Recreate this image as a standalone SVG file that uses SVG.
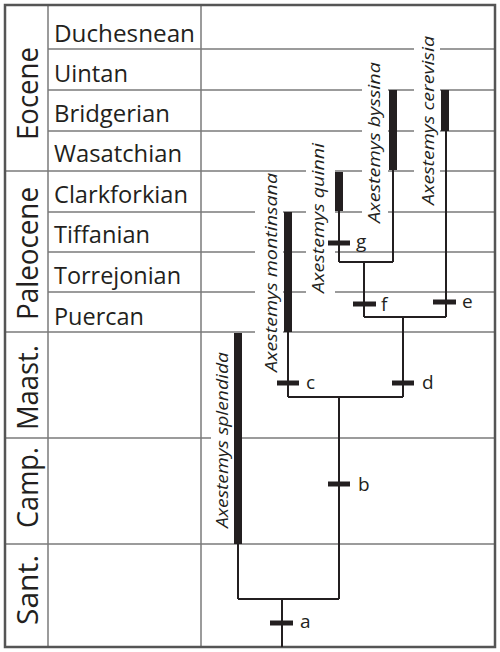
<svg xmlns="http://www.w3.org/2000/svg" width="500" height="652" viewBox="0 0 500 652">
<style>
.grid{stroke:#7a7a7a;stroke-width:1.5;fill:none}
.frame{stroke:#555;stroke-width:2.5;fill:none}
.gap{fill:#fff;stroke:none}
.br{stroke:#231f20;stroke-width:2;fill:none}
.bar{stroke:#231f20;stroke-width:8;fill:none}
.tick{stroke:#231f20;stroke-width:5;fill:none}
.stage{font-family:"Open Sans","Liberation Sans",sans-serif;font-size:24px;fill:#231f20}
.epoch{font-family:"Open Sans","Liberation Sans",sans-serif;font-size:30px;fill:#231f20}
.sp{font-family:"Open Sans","Liberation Sans",sans-serif;font-size:17px;font-style:italic;fill:#231f20}
.lab{font-family:"Open Sans","Liberation Sans",sans-serif;font-size:19px;fill:#231f20}
</style>
<rect x="0" y="0" width="500" height="652" fill="#fff"/>
<g id="grid">
<line class="grid" x1="48" y1="49" x2="495" y2="49"/>
<line class="grid" x1="48" y1="90" x2="495" y2="90"/>
<line class="grid" x1="48" y1="131" x2="495" y2="131"/>
<line class="grid" x1="5" y1="171" x2="495" y2="171"/>
<line class="grid" x1="48" y1="212" x2="495" y2="212"/>
<line class="grid" x1="48" y1="252" x2="495" y2="252"/>
<line class="grid" x1="48" y1="292" x2="495" y2="292"/>
<line class="grid" x1="5" y1="332" x2="495" y2="332"/>
<line class="grid" x1="5" y1="438" x2="495" y2="438"/>
<line class="grid" x1="5" y1="544" x2="495" y2="544"/>
<line class="grid" x1="48" y1="5" x2="48" y2="647"/>
<line class="grid" x1="201" y1="5" x2="201" y2="647"/>
<rect class="frame" x="5" y="5" width="490" height="642"/>
</g>
<g id="gaps">
<rect class="gap" x="211" y="346" width="23" height="190"/>
<rect class="gap" x="255" y="172" width="28" height="204"/>
<rect class="gap" x="306" y="140" width="29" height="156"/>
<rect class="gap" x="362" y="58" width="26" height="169"/>
<rect class="gap" x="414" y="32" width="26" height="177"/>
</g>
<g id="epochs">
<text class="epoch" transform="translate(38,140) rotate(-90)" textLength="93" lengthAdjust="spacingAndGlyphs">Eocene</text>
<text class="epoch" transform="translate(38,320) rotate(-90)" textLength="133" lengthAdjust="spacingAndGlyphs">Paleocene</text>
<text class="epoch" transform="translate(38,430) rotate(-90)" textLength="85" lengthAdjust="spacingAndGlyphs">Maast.</text>
<text class="epoch" transform="translate(38,528) rotate(-90)" textLength="81" lengthAdjust="spacingAndGlyphs">Camp.</text>
<text class="epoch" transform="translate(38,625) rotate(-90)" textLength="70" lengthAdjust="spacingAndGlyphs">Sant.</text>
</g>
<g id="stages">
<text class="stage" x="54" y="42" textLength="141" lengthAdjust="spacingAndGlyphs">Duchesnean</text>
<text class="stage" x="54" y="82" textLength="74" lengthAdjust="spacingAndGlyphs">Uintan</text>
<text class="stage" x="54" y="122" textLength="116" lengthAdjust="spacingAndGlyphs">Bridgerian</text>
<text class="stage" x="54" y="162" textLength="128" lengthAdjust="spacingAndGlyphs">Wasatchian</text>
<text class="stage" x="54" y="203" textLength="134" lengthAdjust="spacingAndGlyphs">Clarkforkian</text>
<text class="stage" x="54" y="243" textLength="96" lengthAdjust="spacingAndGlyphs">Tiffanian</text>
<text class="stage" x="54" y="284" textLength="127" lengthAdjust="spacingAndGlyphs">Torrejonian</text>
<text class="stage" x="54" y="325" textLength="90" lengthAdjust="spacingAndGlyphs">Puercan</text>
</g>
<g id="connectors">
<line class="br" x1="282" y1="599" x2="282" y2="647"/>
<line class="br" x1="238" y1="599" x2="339" y2="599"/>
<line class="br" x1="238" y1="544" x2="238" y2="599"/>
<line class="br" x1="339" y1="397" x2="339" y2="599"/>
<line class="br" x1="288" y1="397" x2="403" y2="397"/>
<line class="br" x1="288" y1="332" x2="288" y2="397"/>
<line class="br" x1="403" y1="317" x2="403" y2="397"/>
<line class="br" x1="364" y1="317" x2="446" y2="317"/>
<line class="br" x1="364" y1="262" x2="364" y2="317"/>
<line class="br" x1="446" y1="131" x2="446" y2="317"/>
<line class="br" x1="339" y1="262" x2="393" y2="262"/>
<line class="br" x1="339" y1="211" x2="339" y2="262"/>
<line class="br" x1="393" y1="170" x2="393" y2="262"/>
</g>
<g id="taxon-splendida">
<line class="bar" x1="238" y1="333" x2="238" y2="544"/>
<text class="sp" transform="translate(228,528) rotate(-90)" textLength="176" lengthAdjust="spacingAndGlyphs">Axestemys splendida</text>
</g>
<g id="taxon-montinsana">
<line class="bar" x1="288" y1="212" x2="288" y2="332"/>
<text class="sp" transform="translate(277,372) rotate(-90)" textLength="199" lengthAdjust="spacingAndGlyphs">Axestemys montinsana</text>
</g>
<g id="taxon-quinni">
<line class="bar" x1="339" y1="172" x2="339" y2="211"/>
<text class="sp" transform="translate(324,293) rotate(-90)" textLength="150" lengthAdjust="spacingAndGlyphs">Axestemys quinni</text>
</g>
<g id="taxon-byssina">
<line class="bar" x1="393" y1="90" x2="393" y2="170"/>
<text class="sp" transform="translate(380,223) rotate(-90)" textLength="161" lengthAdjust="spacingAndGlyphs">Axestemys byssina</text>
</g>
<g id="taxon-cerevisia">
<line class="bar" x1="445" y1="90" x2="445" y2="131"/>
<text class="sp" transform="translate(434,205) rotate(-90)" textLength="169" lengthAdjust="spacingAndGlyphs">Axestemys cerevisia</text>
</g>
<g id="node-a"><line class="tick" x1="270" y1="623" x2="293" y2="623"/><text class="lab" x="300" y="628">a</text></g>
<g id="node-b"><line class="tick" x1="328" y1="484" x2="350" y2="484"/><text class="lab" x="358" y="491">b</text></g>
<g id="node-c"><line class="tick" x1="277" y1="383" x2="299" y2="383"/><text class="lab" x="306" y="389">c</text></g>
<g id="node-d"><line class="tick" x1="392" y1="383" x2="414" y2="383"/><text class="lab" x="422" y="389">d</text></g>
<g id="node-e"><line class="tick" x1="433" y1="302" x2="456" y2="302"/><text class="lab" x="462" y="308">e</text></g>
<g id="node-f"><line class="tick" x1="353" y1="304" x2="376" y2="304"/><text class="lab" x="381" y="311">f</text></g>
<g id="node-g"><line class="tick" x1="328" y1="243" x2="350" y2="243"/><text class="lab" x="356" y="248">g</text></g>
</svg>
